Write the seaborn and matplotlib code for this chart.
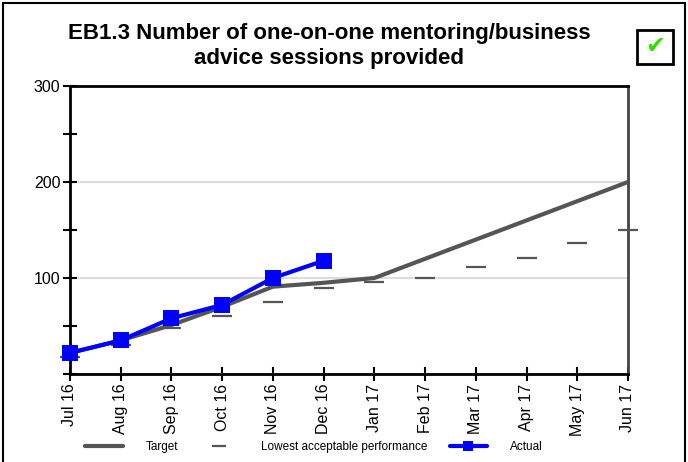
import pandas as pd
import numpy as np
import matplotlib
matplotlib.use('Agg')
import matplotlib.pyplot as plt
from matplotlib.patches import Rectangle
import seaborn as sns

# Données
months = ['Jul 16', 'Aug 16', 'Sep 16', 'Oct 16', 'Nov 16', 'Dec 16',
          'Jan 17', 'Feb 17', 'Mar 17', 'Apr 17', 'May 17', 'Jun 17']
target = [22, 35, 51, 70, 91, 95, 100, 120, 140, 160, 180, 200]
lowest = [18, 30, 48, 60, 75, 90, 96, 100, 111, 121, 136, 150]
actual_months = months[:6]
actual = [22, 35, 58, 72, 100, 118]

title = 'EB1.3 Number of one-on-one mentoring/business\nadvice sessions provided'

df_target = pd.DataFrame({'month': months, 'value': target})
df_low = pd.DataFrame({'month': months, 'value': lowest})
df_actual = pd.DataFrame({'month': actual_months, 'value': actual})

sns.set_style('white')
plt.rcParams['font.family'] = ['Liberation Sans', 'DejaVu Sans']
plt.rcParams['text.color'] = 'black'

fig = plt.figure(figsize=(6.88, 4.62), dpi=100)
ax = fig.add_axes([70 / 688, 1 - 374 / 462, 558 / 688, 288 / 462])

sns.lineplot(data=df_target, x='month', y='value', ax=ax, color='#555555',
             linewidth=3, label='Target', sort=False, zorder=3)
sns.lineplot(data=df_low, x='month', y='value', ax=ax, color='#555555',
             linestyle='none', marker='_', markersize=14, markeredgewidth=1.6,
             markeredgecolor='#555555',
             label='Lowest acceptable performance', sort=False, clip_on=False, zorder=3)
sns.lineplot(data=df_actual, x='month', y='value', ax=ax, color='#0000ff',
             linewidth=3, marker='s', markersize=11, markeredgewidth=0,
             label='Actual', sort=False, zorder=4, clip_on=False)

ax.set_xlim(0, len(months) - 1)
ax.set_ylim(0, 300)
ax.set_xlabel('')
ax.set_ylabel('')

ax.set_yticks([0, 100, 200, 300])
ax.set_yticklabels(['', '100', '200', '300'])
ax.set_yticks([50, 150, 250], minor=True)
ax.grid(axis='y', which='major', color='#dddddd', linewidth=1.5, zorder=0)
ax.grid(axis='x', visible=False)

ax.tick_params(axis='both', which='both', direction='inout', length=10, width=1.5,
               color='black', labelsize=11.5, labelcolor='black',
               bottom=True, left=True)
ax.tick_params(axis='x', rotation=90, pad=2)
ax.tick_params(axis='y', pad=2)

for side in ['left', 'bottom', 'top']:
    ax.spines[side].set_color('black')
    ax.spines[side].set_linewidth(2)
ax.spines['right'].set_color('#444444')
ax.spines['right'].set_linewidth(2)

leg = ax.legend(loc='center', bbox_to_anchor=(314 / 688, 1 - 447 / 462),
                bbox_transform=fig.transFigure, ncol=3, frameon=False,
                fontsize=8.5, handlelength=3.2, handletextpad=1.9, columnspacing=1.9,
                markerscale=0.7)

fig.text(329 / 688, 1 - 46 / 462, title, ha='center', va='center',
         fontsize=16, fontweight='bold', linespacing=1.3, color='black')

# case cochée en haut à droite
fig.patches.append(Rectangle((637 / 688, 1 - 64 / 462), 36 / 688, 34 / 462,
                             transform=fig.transFigure, fill=False,
                             edgecolor='black', linewidth=2))
fig.text(655 / 688, 1 - 46 / 462, '\u2714', ha='center', va='center',
         fontsize=17, color='#33dd00', family=['DejaVu Sans'])

# cadre autour de la figure
fig.patches.append(Rectangle((3 / 688, -0.01), 682 / 688, 1 - 3 / 462 + 0.01,
                             transform=fig.transFigure, fill=False,
                             edgecolor='black', linewidth=1.5))

fig.savefig('out.png', dpi=100)
